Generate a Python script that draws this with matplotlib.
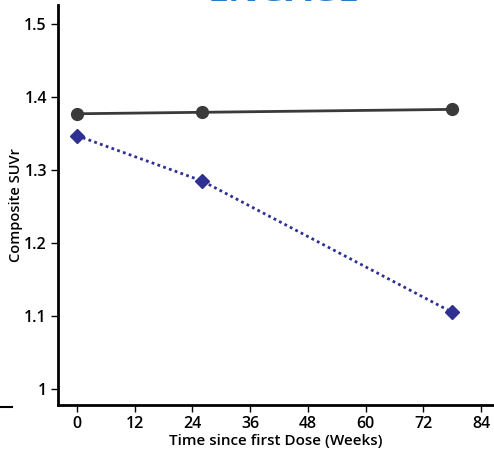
import matplotlib
matplotlib.use("Agg")
import matplotlib.pyplot as plt
from matplotlib.lines import Line2D
from matplotlib.ticker import FuncFormatter

# data
weeks = [0, 26, 78]
placebo_suvr = [1.377, 1.379, 1.383]
treated_suvr = [1.347, 1.285, 1.105]
x_ticks = [0, 12, 24, 36, 48, 60, 72, 84]
y_ticks = [1.0, 1.1, 1.2, 1.3, 1.4, 1.5]

plt.rcParams['font.family'] = ['Open Sans', 'DejaVu Sans']

W, H = 494, 453
fig = plt.figure(figsize=(W / 100, H / 100), dpi=100)
ax = fig.add_axes([58 / W, 1 - 405 / H, 1 - 58 / W, 400 / H])

ax.plot(weeks, placebo_suvr, color='#3a3a3a', lw=2, marker='o', ms=8.5,
        clip_on=False, zorder=3)
ax.plot(weeks, treated_suvr, color='#2e3192', lw=2, ls=(0, (1, 1.2)),
        marker='D', ms=7.5, clip_on=False, zorder=3)

ax.set_xlim(-3.95, 86.7)
ax.set_ylim(0.978, 1.526)
ax.set_xticks(x_ticks)
ax.set_yticks(y_ticks)
ax.yaxis.set_major_formatter(FuncFormatter(lambda v, p: f"{v:g}"))

for s in ['top', 'right']:
    ax.spines[s].set_visible(False)
for s in ['left', 'bottom']:
    ax.spines[s].set_linewidth(2)
ax.tick_params(length=5, width=1, labelsize=11.5, pad=3)
for lab in ax.get_xticklabels() + ax.get_yticklabels():
    lab.set_fontweight('semibold')

ax.set_xlabel('Time since first Dose (Weeks)', fontsize=11,
              fontweight='semibold', labelpad=1)
ax.set_ylabel('Composite SUVr', fontsize=10.5, fontweight='semibold',
              labelpad=1)

# cropped title at top of the panel
fig.text(284 / W, 1 - 1 / H, 'ENGAGE', color='#2a7bc8', fontsize=27,
         fontweight='bold', ha='center', va='baseline')

# stray tick from neighbouring panel at left edge
fig.add_artist(Line2D([0, 12 / W], [1 - 407 / H, 1 - 407 / H],
                      color='black', lw=1.5, transform=fig.transFigure))

fig.savefig('out.png', dpi=100)
